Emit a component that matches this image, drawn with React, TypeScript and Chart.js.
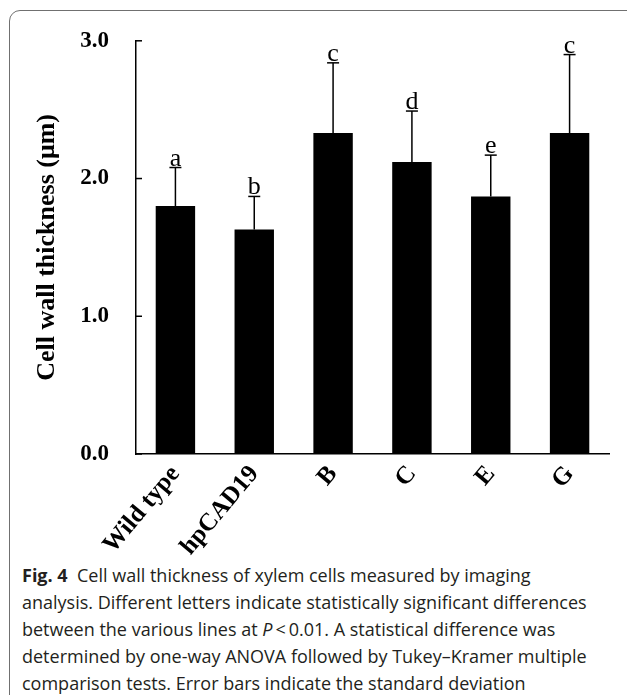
import React, { useEffect, useRef } from 'react';
import { Chart, registerables } from 'chart.js';

Chart.register(...registerables);

const categories = ['Wild type', 'hpCAD19', 'B', 'C', 'E', 'G'];
const means = [1.8, 1.63, 2.33, 2.12, 1.87, 2.33];
const sds = [0.28, 0.24, 0.51, 0.37, 0.3, 0.57];
const letters = ['a', 'b', 'c', 'd', 'e', 'c'];
const yTicks = [0, 1, 2, 3];

const SERIF = '"Liberation Serif", "Times New Roman", serif';
const SANS = '"Open Sans", "Noto Sans", sans-serif';

const errorBarPlugin = {
  id: 'errorBars',
  afterDatasetsDraw(chart: any) {
    const ctx = chart.ctx;
    const meta = chart.getDatasetMeta(0);
    const y = chart.scales.y;
    const area = chart.chartArea;
    ctx.save();
    ctx.strokeStyle = '#000';
    ctx.fillStyle = '#000';
    ctx.lineWidth = 1.5;
    ctx.font = `26px ${SERIF}`;
    ctx.textAlign = 'center';
    ctx.textBaseline = 'alphabetic';
    meta.data.forEach((bar: any, i: number) => {
      const x = bar.x;
      const yMean = y.getPixelForValue(means[i]);
      const yTop = y.getPixelForValue(means[i] + sds[i]);
      ctx.beginPath();
      ctx.moveTo(x, yMean);
      ctx.lineTo(x, yTop);
      ctx.stroke();
      ctx.beginPath();
      ctx.moveTo(x - 6, yTop);
      ctx.lineTo(x + 6, yTop);
      ctx.stroke();
      ctx.fillText(letters[i], x, yTop - 2);
    });
    yTicks.forEach((v) => {
      const py = y.getPixelForValue(v);
      ctx.beginPath();
      ctx.moveTo(area.left, py);
      ctx.lineTo(area.left + 6, py);
      ctx.stroke();
    });
    ctx.restore();
  },
};

function BarChart() {
  const ref = useRef<HTMLCanvasElement>(null);
  useEffect(() => {
    if (!ref.current) return;
    const chart = new Chart(ref.current, {
      type: 'bar',
      data: {
        labels: categories,
        datasets: [
          {
            data: means,
            backgroundColor: '#000',
            borderWidth: 0,
            barPercentage: 0.5,
            categoryPercentage: 1,
          },
        ],
      },
      options: {
        animation: false,
        responsive: false,
        devicePixelRatio: 1,
        layout: { padding: { top: 40, right: 18, left: 0, bottom: 0 } },
        plugins: { legend: { display: false }, tooltip: { enabled: false } },
        scales: {
          x: {
            type: 'category',
            grid: { display: false, drawTicks: false },
            border: { display: true, color: '#000', width: 1.5 },
            ticks: {
              color: '#000',
              font: { family: SERIF, size: 25, weight: 'bold' },
              minRotation: 50,
              maxRotation: 50,
              padding: 6,
              autoSkip: false,
            },
            afterFit: (s: any) => {
              s.height = 106;
            },
          },
          y: {
            min: 0,
            max: 3,
            grid: { display: false, drawTicks: false },
            border: { display: true, color: '#000', width: 1.5 },
            ticks: {
              stepSize: 1,
              color: '#000',
              padding: 27,
              font: { family: SERIF, size: 23, weight: 'bold' },
              callback: (v: any) => Number(v).toFixed(1),
            },
            title: {
              display: true,
              text: 'Cell wall thickness (μm)',
              color: '#000',
              font: { family: SERIF, size: 26, weight: 'bold' },
              padding: { top: 32, bottom: 0 },
            },
            afterFit: (s: any) => {
              s.width = 136;
            },
          },
        },
      },
      plugins: [errorBarPlugin],
    });
    return () => chart.destroy();
  }, []);
  return (
    <canvas
      ref={ref}
      width={627}
      height={560}
      style={{ position: 'absolute', left: 0, top: 0, width: 627, height: 560 }}
    />
  );
}

export default function App() {
  const lineStyle: React.CSSProperties = { whiteSpace: 'nowrap', height: 27 };
  return (
    <div
      style={{
        position: 'absolute',
        left: 0,
        top: 0,
        width: 627,
        height: 695,
        overflow: 'hidden',
        background: '#fff',
      }}
    >
      <div
        style={{
          position: 'absolute',
          left: 9,
          top: 10,
          width: 700,
          height: 800,
          border: '1.5px solid #707070',
          borderTopLeftRadius: 11,
          boxSizing: 'border-box',
        }}
      />
      <BarChart />
      <div
        style={{
          position: 'absolute',
          left: 22,
          top: 562,
          fontFamily: SANS,
          fontSize: 18,
          lineHeight: '27px',
          color: '#231f20',
          letterSpacing: '0px',
        }}
      >
        <div style={lineStyle}>
          <b>Fig. 4</b>&nbsp; Cell wall thickness of xylem cells measured by imaging
        </div>
        <div style={lineStyle}>
          analysis. Different letters indicate statistically significant differences
        </div>
        <div style={lineStyle}>
          between the various lines at <i>P</i>&thinsp;&lt;&thinsp;0.01. A statistical difference was
        </div>
        <div style={lineStyle}>
          determined by one-way ANOVA followed by Tukey–Kramer multiple
        </div>
        <div style={lineStyle}>
          comparison tests. Error bars indicate the standard deviation
        </div>
      </div>
    </div>
  );
}
